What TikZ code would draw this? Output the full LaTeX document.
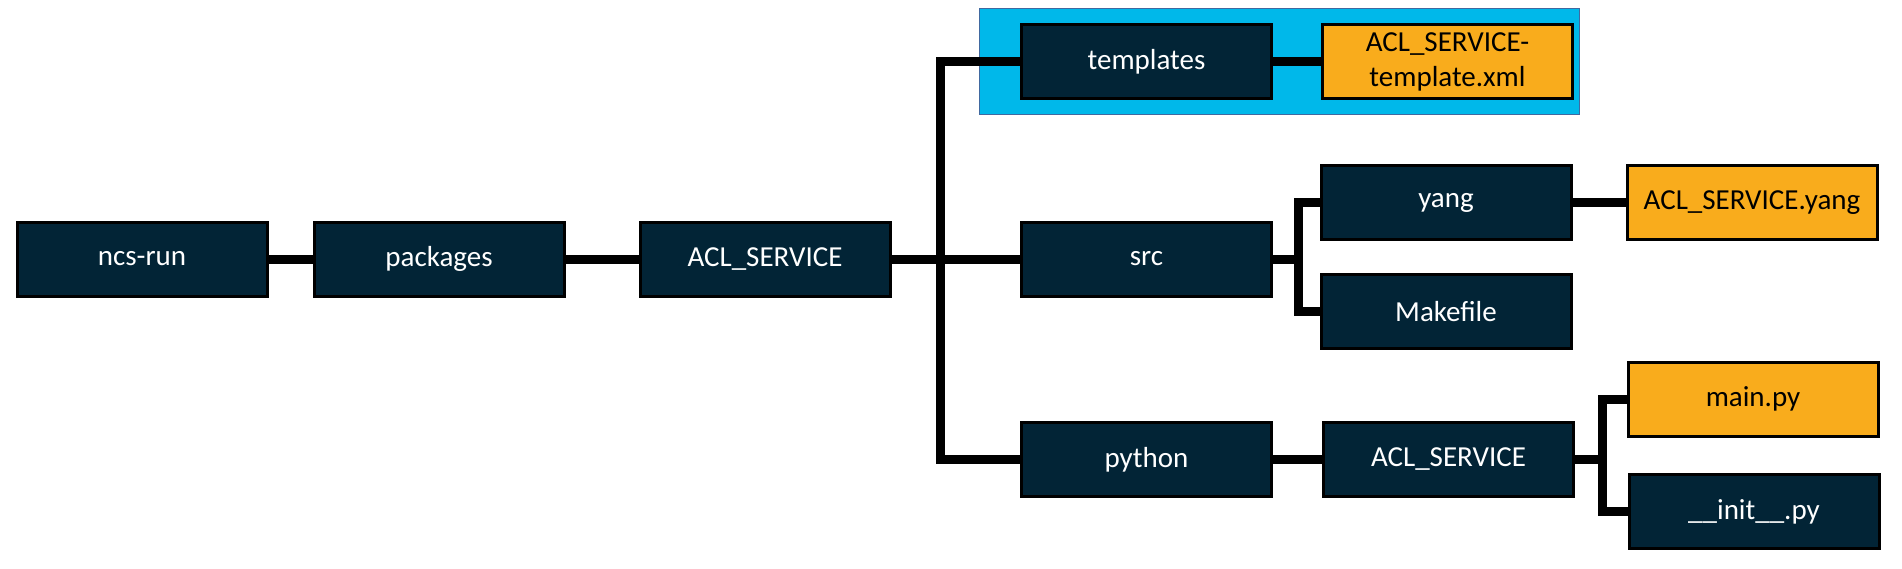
\documentclass[tikz,border=0pt]{standalone}
\usepackage{fontspec}
\setmainfont{Carlito}
\definecolor{navy}{RGB}{2,36,54}
\definecolor{amber}{RGB}{249,172,28}
\definecolor{skyfill}{RGB}{0,184,234}
\definecolor{skyline}{RGB}{65,105,160}
\begin{document}
\begin{tikzpicture}[x=1pt,y=-1pt,
  box/.style={draw=black,line width=3pt,minimum width=250pt,minimum height=74pt,inner sep=0pt,font=\fontsize{29}{35}\selectfont,align=center},
  dirbox/.style={box,fill=navy,text=white},
  filebox/.style={box,fill=amber,text=black},
  conn/.style={draw=black,line width=9pt,line join=miter}]
\useasboundingbox (0,0) rectangle (1902,568);
\fill[white] (0,0) rectangle (1902,568);
% group background
\node[draw=skyline,line width=1.5pt,fill=skyfill,minimum width=600pt,minimum height=106pt,inner sep=0pt] (grp) at (1279.5,61.5) {};
% nodes
\node[dirbox] (ncs) at (142,259) {ncs-run};
\node[dirbox] (pkg) at (439,259) {packages};
\node[dirbox] (acl) at (765,259) {ACL\_SERVICE};
\node[dirbox] (tpl) at (1146.5,61.5) {templates};
\node[filebox] (xml) at (1447.5,61.5) {ACL\_SERVICE-\\template.xml};
\node[dirbox] (src) at (1146.5,259) {src};
\node[dirbox] (yang) at (1446,202.5) {yang};
\node[dirbox] (make) at (1446,311.5) {Makefile};
\node[filebox] (ayang) at (1752,202.5) {ACL\_SERVICE.yang};
\node[dirbox] (py) at (1146.5,459.5) {python};
\node[dirbox] (acl2) at (1448.5,459.5) {ACL\_SERVICE};
\node[filebox] (main) at (1753,399) {main.py};
\node[dirbox] (init) at (1754,511.5) {\_\_init\_\_.py};
% junction points
\coordinate (trunk) at (940,259);
\coordinate (b1) at (1298,259);
\coordinate (b2) at (1602,459.5);
% connectors
\draw[conn] (ncs.east) -- (pkg.west);
\draw[conn] (pkg.east) -- (acl.west);
\draw[conn] (acl.east) -- (src.west);
\draw[conn] (tpl.west) -| (trunk) |- (py.west);
\draw[conn] (tpl.east) -- (xml.west);
\draw[conn] (src.east) -- (b1);
\draw[conn] (yang.west) -| (b1) |- (make.west);
\draw[conn] (yang.east) -- (ayang.west);
\draw[conn] (py.east) -- (acl2.west);
\draw[conn] (acl2.east) -- (b2);
\draw[conn] (main.west) -| (b2) |- (init.west);
\end{tikzpicture}
\end{document}
